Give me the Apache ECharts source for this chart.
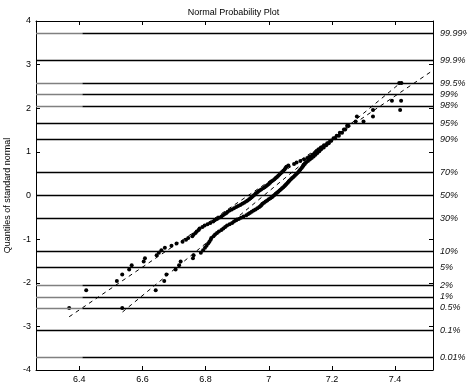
<!DOCTYPE html>
<html><head><meta charset="utf-8">
<script src="https://cdn.jsdelivr.net/npm/echarts@6/dist/echarts.min.js"></script>
<style>html,body{margin:0;padding:0;background:#fff}#c{width:467px;height:383px}</style>
</head><body><div id="c"></div>
<script>
// Shared plotting positions (quantiles of standard normal) for n = 100
const quantiles = [-2.576,-2.170,-1.960,-1.812,-1.695,-1.598,-1.514,-1.440,-1.372,-1.311,
-1.254,-1.200,-1.150,-1.103,-1.058,-1.015,-0.974,-0.935,-0.896,-0.860,
-0.824,-0.789,-0.755,-0.722,-0.690,-0.659,-0.628,-0.598,-0.568,-0.539,
-0.510,-0.482,-0.454,-0.426,-0.399,-0.372,-0.345,-0.319,-0.292,-0.266,
-0.240,-0.215,-0.189,-0.164,-0.138,-0.113,-0.088,-0.063,-0.038,-0.013,
0.013,0.038,0.063,0.088,0.113,0.138,0.164,0.189,0.215,0.240,
0.266,0.292,0.319,0.345,0.372,0.399,0.426,0.454,0.482,0.510,
0.539,0.568,0.598,0.628,0.659,0.690,0.722,0.755,0.789,0.824,
0.860,0.896,0.935,0.974,1.015,1.058,1.103,1.150,1.200,1.254,
1.311,1.372,1.440,1.514,1.598,1.695,1.812,1.960,2.170,2.576];

// Sample 1 (sorted)
const sampleA = [6.368,6.422,6.519,6.536,6.558,6.566,6.604,6.608,6.645,6.652,
6.660,6.671,6.692,6.708,6.727,6.738,6.745,6.758,6.762,6.768,
6.772,6.778,6.781,6.790,6.797,6.806,6.815,6.824,6.829,6.836,
6.842,6.850,6.855,6.861,6.866,6.870,6.876,6.883,6.890,6.897,
6.903,6.910,6.916,6.922,6.928,6.933,6.938,6.942,6.946,6.950,
6.954,6.958,6.962,6.966,6.971,6.976,6.982,6.987,6.992,6.996,
7.000,7.004,7.008,7.013,7.018,7.022,7.026,7.030,7.034,7.038,
7.042,7.046,7.050,7.053,7.056,7.062,7.080,7.088,7.100,7.112,
7.122,7.130,7.138,7.145,7.152,7.158,7.165,7.175,7.185,7.195,
7.205,7.215,7.225,7.238,7.248,7.275,7.279,7.330,7.390,7.413];

// Sample 2 (sorted)
const sampleB = [6.536,6.642,6.669,6.676,6.705,6.716,6.721,6.760,6.762,6.785,
6.792,6.798,6.803,6.808,6.812,6.816,6.818,6.825,6.830,6.836,
6.842,6.850,6.856,6.862,6.868,6.876,6.884,6.890,6.897,6.905,
6.912,6.920,6.929,6.935,6.940,6.946,6.952,6.958,6.964,6.970,
6.974,6.977,6.980,6.985,6.990,6.995,7.000,7.005,7.010,7.014,
7.018,7.022,7.026,7.030,7.034,7.038,7.042,7.046,7.050,7.053,
7.056,7.060,7.063,7.066,7.070,7.074,7.078,7.082,7.086,7.090,
7.094,7.097,7.100,7.104,7.107,7.110,7.114,7.118,7.124,7.130,
7.136,7.142,7.148,7.154,7.160,7.166,7.174,7.182,7.190,7.198,
7.210,7.222,7.232,7.242,7.252,7.300,7.330,7.416,7.419,7.420];

// Reference (fit) lines: endpoints [x, quantile]
const refLineA = [[6.368,-2.78],[7.514,2.84]];
const refLineB = [[6.537,-2.67],[7.420,2.60]];

// Probability grid levels (right-hand scale)
const probLevels = [3.719,3.090,2.576,2.326,2.054,1.645,1.282,0.524,0,-0.524,-1.282,-1.645,-2.054,-2.326,-2.576,-3.090,-3.719];
const probLabels = ['99.99%','99.9%','99.5%','99%','98%','95%','90%','70%','50%','30%','10%','5%','2%','1%','0.5%','0.1%','0.01%'];
const greyLevels = ['99.99%','99.5%','99%','98%','2%','1%','0.5%','0.01%'];

const xTicks = [6.4,6.6,6.8,7,7.2,7.4];
const XMIN = 6.263, XMAX = 7.52, GREY_END = 6.41;

const FONT = '"Liberation Sans", Arial, Helvetica, sans-serif';

const gridLines = [];
probLevels.forEach((z, i) => {
  if (greyLevels.includes(probLabels[i])) {
    gridLines.push([{coord:[XMIN,z], lineStyle:{color:'#808080'}},{coord:[GREY_END,z]}]);
    gridLines.push([{coord:[GREY_END,z]},{coord:[XMAX,z]}]);
  } else {
    gridLines.push([{coord:[XMIN,z]},{coord:[XMAX,z]}]);
  }
});

const chart = echarts.init(document.getElementById('c'), null, {renderer:'canvas'});
const axisCommon = {
  type:'value', splitLine:{show:false},
  axisLine:{show:true, onZero:false, lineStyle:{color:'#000', width:1}},
  axisTick:{show:true, inside:true, length:4, lineStyle:{color:'#000'}}
};
chart.setOption({
  animation:false,
  backgroundColor:'#fff',
  title:{text:'Normal Probability Plot', left:'center', top:3,
    textStyle:{fontFamily:FONT, fontSize:9, fontWeight:'normal', color:'#000'}},
  grid:{left:36, right:34, top:21, bottom:13, containLabel:false, outerBoundsMode:'none'},
  xAxis:[
    Object.assign({}, axisCommon, {position:'bottom', min:XMIN, max:XMAX,
      axisTick:{show:true, inside:true, length:4, customValues:xTicks, lineStyle:{color:'#000'}},
      axisLabel:{customValues:xTicks, color:'#000', fontFamily:FONT, fontSize:9, margin:5,
        formatter: v => String(Math.round(v*10)/10)}}),
    Object.assign({}, axisCommon, {position:'top', min:XMIN, max:XMAX,
      axisTick:{show:true, inside:true, length:4, customValues:xTicks, lineStyle:{color:'#000'}},
      axisLabel:{show:false}})
  ],
  yAxis:[
    Object.assign({}, axisCommon, {position:'left', min:-4, max:4, interval:1,
      axisLabel:{color:'#000', fontFamily:FONT, fontSize:9, margin:5},
      name:'Quantiles of standard normal', nameLocation:'middle', nameGap:20, nameRotate:90,
      nameTextStyle:{fontFamily:FONT, fontSize:9, color:'#000'}}),
    Object.assign({}, axisCommon, {position:'right', min:-4, max:4, interval:1,
      axisLabel:{customValues:probLevels, color:'#111', fontFamily:FONT, fontSize:9, fontStyle:'italic', margin:7,
        formatter: v => { const k = probLevels.findIndex(l => Math.abs(l - v) < 1e-6); return k >= 0 ? probLabels[k] : ''; }}})
  ],
  series:[
    {type:'scatter', name:'grid', data:[], silent:true,
      markLine:{silent:true, symbol:['none','none'], label:{show:false},
        lineStyle:{color:'#000', width:1.3, type:'solid'}, emphasis:{disabled:true}, data:gridLines}},
    {type:'line', data:refLineA, symbol:'none', silent:true,
      lineStyle:{color:'#000', width:1, type:[4,4]}},
    {type:'line', data:refLineB, symbol:'none', silent:true,
      lineStyle:{color:'#000', width:1, type:[4,4]}},
    {type:'scatter', data:sampleA.map((x,i)=>[x, quantiles[i]]), symbolSize:4,
      itemStyle:{color:'#000', opacity:1}, silent:true},
    {type:'scatter', data:sampleB.map((x,i)=>[x, quantiles[i]]), symbolSize:4,
      itemStyle:{color:'#000', opacity:1}, silent:true}
  ]
});
</script>
</body></html>
